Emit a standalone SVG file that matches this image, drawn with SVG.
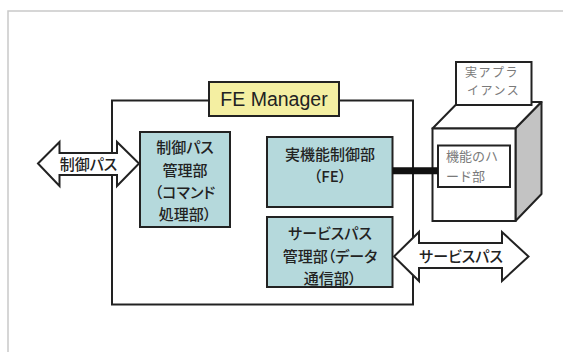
<svg xmlns="http://www.w3.org/2000/svg" width="563" height="352" viewBox="0 0 563 352">
  <style>
    .frame { fill: none; stroke: #c9c9c9; stroke-width: 1.5; }
    .box { stroke: #222; stroke-width: 2; }
    .unit { fill: #b5d9dc; }
    .label { fill: #f4efa2; }
    .plain { fill: #fff; }
    .side { fill: #c3c3c3; stroke: #222; stroke-width: 2; stroke-linejoin: round; }
    .top { fill: #fff; stroke: #222; stroke-width: 2; stroke-linejoin: round; }
    .arrow { fill: #fff; stroke: #222; stroke-width: 2; stroke-linejoin: miter; }
    .jp { font-family: "Noto Sans CJK JP", "Liberation Sans", sans-serif; font-size: 15px; fill: #222; text-anchor: middle; font-feature-settings: "palt"; font-weight: 500; }
    .jp-s { font-family: "Noto Sans CJK JP", "Liberation Sans", sans-serif; font-size: 13px; fill: #7a7a7a; }
    .jp-xs { font-family: "Noto Sans CJK JP", "Liberation Sans", sans-serif; font-size: 12px; letter-spacing: 1.5px; fill: #7a7a7a; }
    .en { font-family: "Liberation Sans", Arial, sans-serif; font-size: 19.5px; fill: #222; text-anchor: middle; }
  </style>

  <!-- page frame -->
  <rect class="frame" x="8" y="11" width="600" height="400"/>

  <!-- FE Manager container -->
  <g id="fe-manager">
    <rect class="box plain" x="112" y="100.5" width="301" height="204"/>
    <rect class="box label" x="209" y="82" width="130" height="34"/>
    <text class="en" x="274" y="106">FE Manager</text>
  </g>

  <g id="control-path-unit">
    <rect class="box unit" x="140" y="132" width="90" height="95"/>
    <text class="jp" x="185" y="153">制御パス</text>
    <text class="jp" x="185" y="176">管理部</text>
    <text class="jp" x="185" y="198">（コマンド</text>
    <text class="jp" x="185" y="220">処理部）</text>
  </g>

  <g id="function-control-unit">
    <rect class="box unit" x="267" y="137" width="125.5" height="70"/>
    <text class="jp" x="330" y="160">実機能制御部</text>
    <text class="jp" x="330" y="182">（FE）</text>
  </g>

  <g id="service-path-unit">
    <rect class="box unit" x="267" y="217" width="125.5" height="70"/>
    <text class="jp" x="330" y="239">サービスパス</text>
    <text class="jp" x="330" y="261.5">管理部（データ</text>
    <text class="jp" x="330" y="283.5">通信部）</text>
  </g>

  <!-- appliance drawn as a box in perspective -->
  <g id="appliance">
    <polygon class="top" points="432.5,128.5 458.5,102 541.5,102 515.5,128.5"/>
    <polygon class="side" points="515.5,128.5 541.5,102 541.5,194 515.5,221"/>
    <rect class="box plain" x="432.5" y="128.5" width="83" height="92.5"/>
    <rect class="box plain" x="456" y="62" width="75.5" height="43"/>
    <text class="jp-xs" x="465" y="77">実アプラ</text>
    <text class="jp-xs" x="467" y="95">イアンス</text>
  </g>

  <g id="hardware-unit">
    <rect class="box plain" x="438" y="145.5" width="72" height="41.5"/>
    <text class="jp-s" x="446" y="161">機能のハ</text>
    <text class="jp-s" x="446" y="181">ード部</text>
  </g>

  <g id="connectors">
    <line x1="392.5" y1="170.7" x2="438" y2="170.7" stroke="#111" stroke-width="7"/>
    <path class="arrow" d="M38,163.5 L59.5,142 L59.5,153 L117,153 L117,142 L139,163.5 L117,186 L117,175 L59.5,175 L59.5,186 Z"/>
    <text class="jp" x="88.5" y="169.5">制御パス</text>
    <path class="arrow" d="M394,256.5 L419,232 L419,243 L502,243 L502,232 L528.5,256.5 L502,281 L502,268 L419,268 L419,281 Z"/>
    <text class="jp" x="461" y="262">サービスパス</text>
  </g>
</svg>
